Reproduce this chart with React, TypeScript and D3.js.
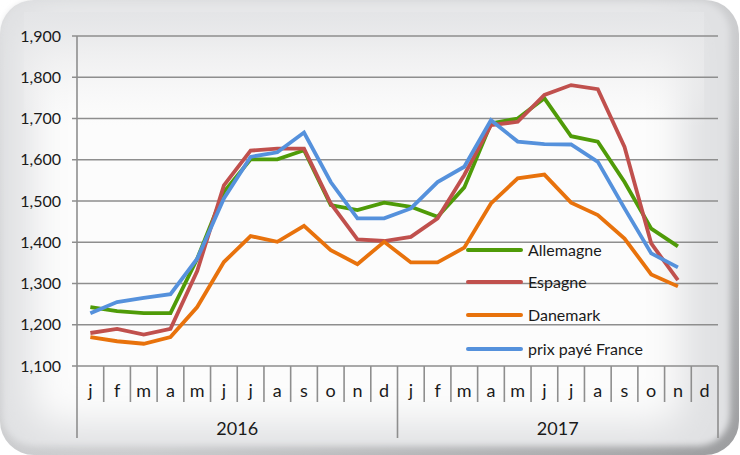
import React from "react";
import * as d3 from "d3";

const months = ["j", "f", "m", "a", "m", "j", "j", "a", "s", "o", "n", "d"];
const years = ["2016", "2017"];
const yTicks = [1100, 1200, 1300, 1400, 1500, 1600, 1700, 1800, 1900];

const allemagne: (number | null)[] = [1243, 1233, 1228, 1228, 1360, 1522, 1601, 1601, 1623, 1490, 1478, 1496, 1486, 1462, 1533, 1688, 1700, 1749, 1657, 1644, 1546, 1433, 1390, null];
const espagne: (number | null)[] = [1180, 1190, 1176, 1190, 1330, 1538, 1622, 1627, 1627, 1494, 1407, 1403, 1413, 1458, 1563, 1684, 1692, 1757, 1781, 1771, 1631, 1397, 1308, null];
const danemark: (number | null)[] = [1170, 1160, 1154, 1170, 1243, 1352, 1415, 1401, 1440, 1381, 1347, 1401, 1351, 1351, 1387, 1494, 1555, 1564, 1496, 1466, 1409, 1322, 1293, null];
const france: (number | null)[] = [1228, 1255, 1265, 1274, 1360, 1506, 1607, 1618, 1666, 1546, 1458, 1458, 1482, 1546, 1583, 1696, 1644, 1638, 1637, 1595, 1482, 1373, 1339, null];

const seriesNames = ["Allemagne", "Espagne", "Danemark", "prix payé France"];
const seriesColors = ["#4f9b08", "#c0504d", "#e8720c", "#5591dc"];
const seriesData = [allemagne, espagne, danemark, france];

const W = 740;
const H = 455;
const FONT = "Lato, 'DejaVu Sans', sans-serif";

export default function App() {
  const cats = d3.range(years.length * months.length);
  const x = d3.scaleBand<number>().domain(cats).range([77, 718]).padding(0);
  const y = d3.scaleLinear().domain([1100, 1900]).range([366, 36]);
  const fmt = d3.format(",");
  const line = d3
    .line<number | null>()
    .defined((d) => d != null)
    .x((_, i) => (x(i) as number) + x.bandwidth() / 2)
    .y((d) => y(d as number));

  const gridColor = "#8e8e8e";
  const legendY = [250, 282, 315, 349];

  return (
    <svg width={W} height={H} style={{ position: "absolute", left: 0, top: 0 }}>
      <defs>
        <filter id="blurA" x="-20%" y="-20%" width="140%" height="140%">
          <feGaussianBlur stdDeviation="3" />
        </filter>
        <filter id="blurB" x="-20%" y="-20%" width="140%" height="140%">
          <feGaussianBlur stdDeviation="18" />
        </filter>
        <linearGradient id="edge" x1="0" y1="0" x2="1" y2="1">
          <stop offset="0" stopColor="#dcdddf" />
          <stop offset="0.6" stopColor="#c9cacc" />
          <stop offset="1" stopColor="#9c9d9f" />
        </linearGradient>
        <linearGradient id="topShade" x1="0" y1="0" x2="0" y2="1">
          <stop offset="0" stopColor="#e4e5e7" stopOpacity="1" />
          <stop offset="0.25" stopColor="#ededee" stopOpacity="0.6" />
          <stop offset="0.5" stopColor="#f6f6f6" stopOpacity="0" />
        </linearGradient>
      </defs>
      <rect x={0} y={0} width={W} height={H} fill="#ffffff" />
      <rect x={0} y={0} width={739} height={455} rx={34} fill="url(#edge)" />
      <rect x={2} y={1} width={728} height={445} rx={32} fill="#e0e1e3" filter="url(#blurA)" />
      <rect x={32} y={24} width={650} height={400} rx={24} fill="#fcfcfc" filter="url(#blurB)" />
      <rect x={24} y={12} width={680} height={230} fill="url(#topShade)" />

      {yTicks.map((t) => (
        <g key={t}>
          <line x1={72} x2={718} y1={y(t)} y2={y(t)} stroke={gridColor} strokeWidth={1.6} />
          <text x={61} y={y(t)} dy="0.35em" textAnchor="end" fontFamily={FONT} fontSize={16} fill="#1a1a1a">
            {fmt(t)}
          </text>
        </g>
      ))}

      <line x1={77} x2={77} y1={36} y2={438} stroke={gridColor} strokeWidth={1.6} />
      {cats.map((i) => {
        const x0 = x(i) as number;
        const isYear = i % months.length === 0;
        return (
          <g key={i}>
            {i > 0 && (
              <line x1={x0} x2={x0} y1={366} y2={isYear ? 438 : 402} stroke={gridColor} strokeWidth={1.6} />
            )}
            <text
              x={x0 + x.bandwidth() / 2}
              y={397}
              textAnchor="middle"
              fontFamily={FONT}
              fontSize={18}
              fill="#1a1a1a"
            >
              {months[i % months.length]}
            </text>
          </g>
        );
      })}
      <line x1={718} x2={718} y1={366} y2={438} stroke={gridColor} strokeWidth={1.6} />
      {years.map((yr, k) => {
        const xa = x(k * months.length) as number;
        const xb = (x((k + 1) * months.length - 1) as number) + x.bandwidth();
        return (
          <text key={yr} x={(xa + xb) / 2} y={435} textAnchor="middle" fontFamily={FONT} fontSize={18} fill="#1a1a1a">
            {yr}
          </text>
        );
      })}

      {seriesData.map((s, k) => (
        <path
          key={seriesNames[k]}
          d={line(s) || ""}
          fill="none"
          stroke={seriesColors[k]}
          strokeWidth={3.8}
          strokeLinejoin="miter"
        />
      ))}

      {seriesNames.map((n, k) => (
        <g key={n}>
          <line x1={468} x2={521} y1={legendY[k]} y2={legendY[k]} stroke={seriesColors[k]} strokeWidth={4} strokeLinecap="round" />
          <text x={528} y={legendY[k]} dy="0.35em" fontFamily={FONT} fontSize={16} fill="#1a1a1a">
            {n}
          </text>
        </g>
      ))}
    </svg>
  );
}
